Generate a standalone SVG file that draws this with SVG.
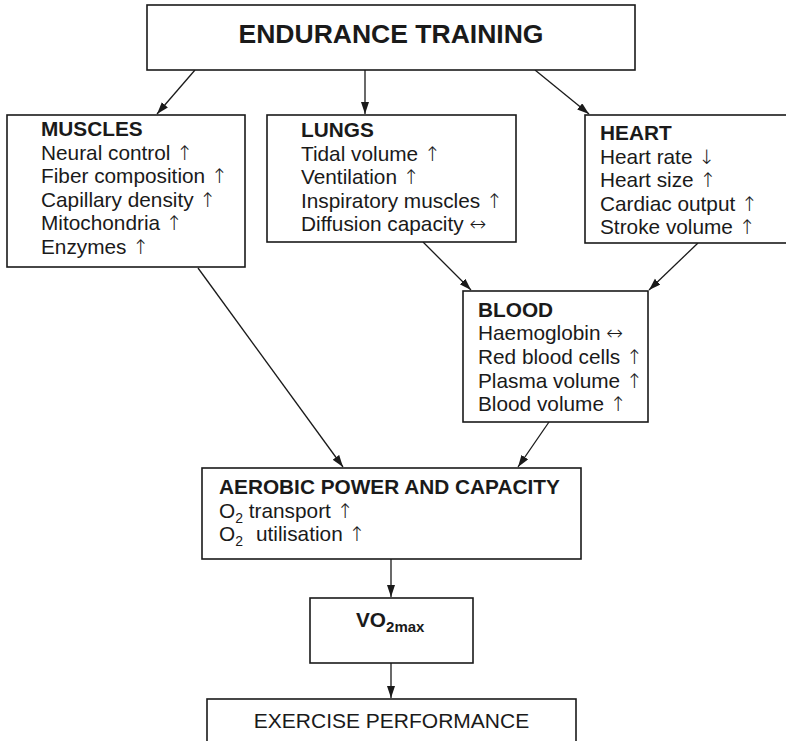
<svg xmlns="http://www.w3.org/2000/svg" width="786" height="741" viewBox="0 0 786 741">
<style>
.box{fill:#fff;stroke:#1a1a1a;stroke-width:1.6}
.t{font-family:"Liberation Sans",Arial,Helvetica,sans-serif;font-size:20.8px;fill:#1a1a1a}
.b{font-weight:bold}
.ar{font-family:"DejaVu Sans",sans-serif;font-weight:200;font-size:20px}
.c{stroke:#1a1a1a;stroke-width:1.3;fill:none;marker-end:url(#ah)}
</style>
<defs>
<marker id="ah" markerUnits="userSpaceOnUse" markerWidth="13" markerHeight="9" refX="12" refY="4" orient="auto">
<path d="M0,0 L12,4 L0,8 z" fill="#1a1a1a"/>
</marker>
</defs>
<rect width="786" height="741" fill="#fff"/>
<g id="connectors">
<line class="c" x1="195" y1="70" x2="157" y2="114"/>
<line class="c" x1="365" y1="70" x2="365" y2="114"/>
<line class="c" x1="535" y1="70" x2="589" y2="114"/>
<line class="c" x1="423" y1="242" x2="471" y2="290"/>
<line class="c" x1="698" y1="243" x2="649" y2="290"/>
<line class="c" x1="198" y1="268" x2="343" y2="467"/>
<line class="c" x1="549" y1="422" x2="518" y2="467"/>
<line class="c" x1="391" y1="559" x2="391" y2="597"/>
<line class="c" x1="391" y1="663" x2="391" y2="698"/>
</g>
<g id="endurance">
<rect class="box" x="147" y="5" width="488" height="65"/>
<text class="t b" x="391" y="43" text-anchor="middle" style="font-size:26px" textLength="305" lengthAdjust="spacingAndGlyphs">ENDURANCE TRAINING</text>
</g>
<g id="muscles">
<rect class="box" x="7" y="115" width="238" height="152"/>
<text class="t b" x="41" y="136">MUSCLES</text>
<text class="t" x="41" y="159.5">Neural control <tspan class="ar">↑</tspan></text>
<text class="t" x="41" y="183">Fiber composition <tspan class="ar">↑</tspan></text>
<text class="t" x="41" y="206.5">Capillary density <tspan class="ar">↑</tspan></text>
<text class="t" x="41" y="230">Mitochondria <tspan class="ar">↑</tspan></text>
<text class="t" x="41" y="253.5">Enzymes <tspan class="ar">↑</tspan></text>
</g>
<g id="lungs">
<rect class="box" x="267" y="115" width="249" height="127"/>
<text class="t b" x="301" y="137">LUNGS</text>
<text class="t" x="301" y="160.5">Tidal volume <tspan class="ar">↑</tspan></text>
<text class="t" x="301" y="184">Ventilation <tspan class="ar">↑</tspan></text>
<text class="t" x="301" y="207.5">Inspiratory muscles <tspan class="ar">↑</tspan></text>
<text class="t" x="301" y="231">Diffusion capacity <tspan class="ar">↔</tspan></text>
</g>
<g id="heart">
<rect class="box" x="585" y="115" width="215" height="128"/>
<text class="t b" x="600" y="140">HEART</text>
<text class="t" x="600" y="163.5">Heart rate <tspan class="ar">↓</tspan></text>
<text class="t" x="600" y="187">Heart size <tspan class="ar">↑</tspan></text>
<text class="t" x="600" y="210.5">Cardiac output <tspan class="ar">↑</tspan></text>
<text class="t" x="600" y="234">Stroke volume <tspan class="ar">↑</tspan></text>
</g>
<g id="blood">
<rect class="box" x="463" y="291" width="185" height="131"/>
<text class="t b" x="478" y="316.5">BLOOD</text>
<text class="t" x="478" y="340">Haemoglobin <tspan class="ar">↔</tspan></text>
<text class="t" x="478" y="363.5">Red blood cells <tspan class="ar">↑</tspan></text>
<text class="t" x="478" y="387.5">Plasma volume <tspan class="ar">↑</tspan></text>
<text class="t" x="478" y="411">Blood volume <tspan class="ar">↑</tspan></text>
</g>
<g id="aerobic">
<rect class="box" x="202" y="468" width="379" height="91"/>
<text class="t b" x="219" y="494">AEROBIC POWER AND CAPACITY</text>
<text class="t" x="219" y="517.5">O<tspan dy="5" style="font-size:14px">2</tspan><tspan dy="-5"> transport </tspan><tspan class="ar">↑</tspan></text>
<text class="t" x="219" y="541">O<tspan dy="5" style="font-size:14px">2</tspan><tspan dy="-5" x="256">utilisation </tspan><tspan class="ar">↑</tspan></text>
</g>
<g id="vo2max">
<rect class="box" x="310" y="598" width="163" height="65"/>
<text class="t b" x="356" y="627">VO<tspan dy="5" style="font-size:15px">2max</tspan></text>
</g>
<g id="performance">
<rect class="box" x="207" y="699" width="369" height="60"/>
<text class="t" x="391.5" y="728" text-anchor="middle" style="font-size:21px">EXERCISE PERFORMANCE</text>
</g>
</svg>
